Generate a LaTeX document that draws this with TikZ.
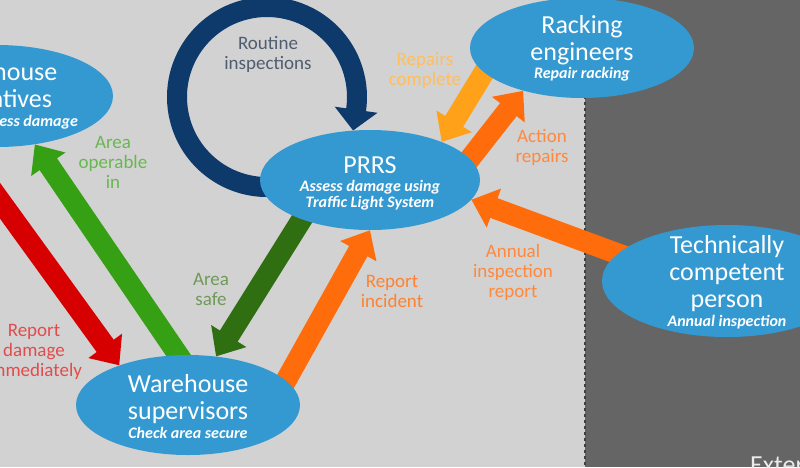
\documentclass[tikz,border=0pt]{standalone}
\usepackage{fontspec}
\setmainfont{Carlito}
\usepackage{tikz}
\usetikzlibrary{shapes.geometric}
\usetikzlibrary{arrows.meta}
\usetikzlibrary{backgrounds}
\definecolor{bginside}{RGB}{210,210,210}
\definecolor{bgoutside}{RGB}{101,101,101}
\definecolor{ovalblue}{RGB}{52,153,209}
\definecolor{ringnavy}{RGB}{13,58,107}
\definecolor{routinegrey}{RGB}{80,92,112}
\definecolor{damagered}{RGB}{214,0,0}
\definecolor{operablegreen}{RGB}{54,160,20}
\definecolor{safegreen}{RGB}{48,110,18}
\definecolor{reportorange}{RGB}{255,108,12}
\definecolor{repairedorange}{RGB}{255,162,26}
\newcommand{\titlefont}{\fontsize{26}{27}\selectfont}
\newcommand{\subfont}{\fontsize{16}{17}\selectfont\bfseries\itshape}
\newcommand{\lblfont}{\fontsize{19}{20}\selectfont}
\tikzset{oval/.style={ellipse, fill=ovalblue, inner sep=0pt},
         ovaltext/.style={text=white, align=center, font=\titlefont, inner sep=0pt},
         lbl/.style={align=center, font=\lblfont, inner sep=0pt},
         flow/.style={line width=21pt, -{Triangle[width=40pt,length=24pt]}, shorten <=-14pt},
         ring/.style={line width=20pt, draw=ringnavy, -{Triangle[width=42pt,length=21pt]}}}

\begin{document}
\begin{tikzpicture}[x=1pt,y=-1pt]
\useasboundingbox (0,0) rectangle (800,467);
\clip (0,0) rectangle (800,467);
\begin{scope}[on background layer]
\fill[bginside] (0,0) rectangle (585,467);
\fill[bgoutside] (585,0) rectangle (800,467);
\draw[black!75, dashed, line width=1.2pt] (585,0) -- (585,467);
\end{scope}
% routine inspection loop
\coordinate (loop) at (267,97);
\draw[ring] ([shift={(80:90)}]loop) arc[start angle=80, end angle=368, radius=90] -- ++(-3,21);
\node[lbl, text=routinegrey] (routine) at (268,54) {Routine\\inspections};
% people
\node[oval, minimum width=232pt, minimum height=102pt,
      label={[ovaltext]center:{Warehouse\\operatives\\[-8pt]\subfont\hspace*{61pt}Assess damage}}] (wrep) at (-3,96) {};
\node[oval, minimum width=220pt, minimum height=100pt,
      label={[ovaltext, yshift=-3pt]center:{PRRS\\[-9pt]\subfont Assess damage using\\[-11pt]\subfont Traffic Light System}}] (prrs) at (370,180) {};
\node[oval, minimum width=224pt, minimum height=100pt,
      label={[ovaltext]center:{Racking\\engineers\\[-9pt]\subfont Repair racking}}] (rack) at (582,48) {};
\node[oval, minimum width=224pt, minimum height=100pt,
      label={[ovaltext, yshift=-2pt]center:{Warehouse\\supervisors\\[-8pt]\subfont Check area secure}}] (sup) at (188,405) {};
\node[oval, minimum width=250pt, minimum height=112pt,
      label={[ovaltext, yshift=-1pt]center:{Technically\\competent\\person\\[-8pt]\subfont Annual inspection}}] (tech) at (727,281) {};
\node[anchor=north west, inner sep=0pt, text=white!92!black, font=\titlefont] (ext) at (750,455) {External};
% flows
\begin{scope}[on background layer]
\draw[flow, damagered] (wrep.232) -- (sup.150);
\draw[flow, operablegreen] (sup.101) -- (wrep.-52);
\draw[flow, safegreen] (prrs.210) -- (sup.60);
\draw[flow, reportorange] (sup.14) -- (prrs.270);
\draw[flow, repairedorange] (rack.194) -- (prrs.28);
\draw[flow, reportorange] (prrs.12) -- (rack.216);
\draw[flow, reportorange] (tech.166) -- (prrs.-11);
\end{scope}
% flow labels
\node[lbl, text=operablegreen!75!white] (operable) at (113,162) {Area\\operable\\in};
\node[lbl, text=safegreen!70!white] (safe) at (211,289) {Area\\safe};
\node[lbl, text=damagered!70!white] (damage) at (34,352) {Report\\damage\\immediately};
\node[lbl, text=reportorange!85!white] (incident) at (392,291) {Report\\incident};
\node[lbl, text=repairedorange!70!white] (repaired) at (425,70) {Repairs\\complete};
\node[lbl, text=reportorange!80!white] (action) at (542,147) {Action\\repairs};
\node[lbl, text=reportorange!80!white] (annual) at (513,272) {Annual\\inspection\\report};
\end{tikzpicture}
\end{document}
